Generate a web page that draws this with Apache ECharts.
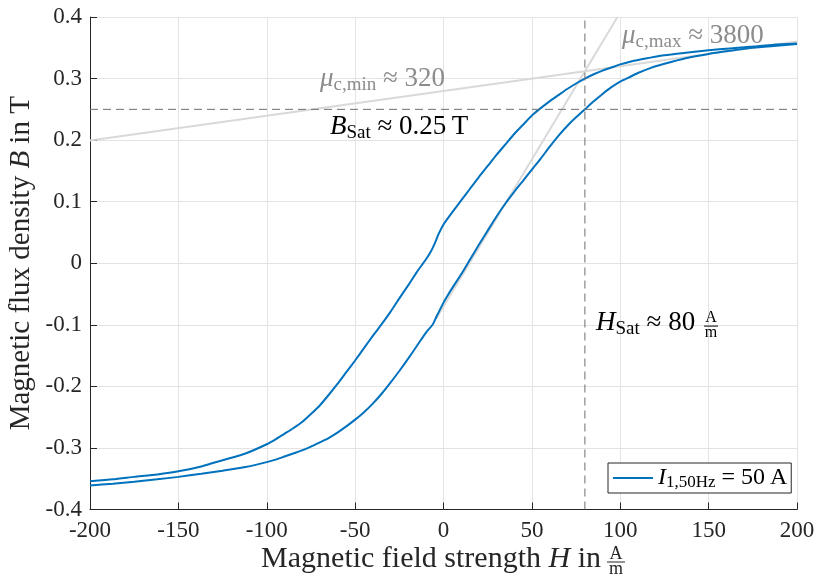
<!DOCTYPE html>
<html>
<head>
<meta charset="utf-8">
<script src="https://cdn.jsdelivr.net/npm/echarts@6/dist/echarts.min.js"></script>
<style>
  html, body { margin: 0; padding: 0; background: #fff; }
  #chart { width: 819px; height: 585px; }
</style>
</head>
<body>
<div id="chart"></div>
<script>
// Hysteresis loop B(H), descending branch (upper curve)
const fieldDown = [-200, -187, -175, -162, -150, -137, -125, -112, -100, -95, -90, -85, -80, -75, -70, -65, -60, -55, -50, -45, -40, -35, -30, -25, -20, -15, -10, -7, -5, -3, 0, 5, 10, 15, 20, 25, 30, 35, 40, 45, 50, 55, 60, 65, 70, 75, 80, 85, 90, 95, 100, 105, 110, 117, 125, 137, 150, 162, 175, 187, 200];
const fluxDown  = [-0.354, -0.351, -0.347, -0.343, -0.338, -0.330, -0.320, -0.309, -0.294, -0.286, -0.277, -0.268, -0.258, -0.245, -0.231, -0.214, -0.196, -0.177, -0.158, -0.138, -0.118, -0.099, -0.079, -0.057, -0.036, -0.014, 0.006, 0.020, 0.032, 0.046, 0.063, 0.083, 0.102, 0.121, 0.140, 0.158, 0.176, 0.193, 0.210, 0.225, 0.240, 0.252, 0.263, 0.273, 0.283, 0.292, 0.300, 0.307, 0.313, 0.318, 0.323, 0.327, 0.330, 0.334, 0.338, 0.342, 0.346, 0.349, 0.352, 0.355, 0.357];

// Ascending branch (lower curve)
const fieldUp = [-200, -187, -175, -162, -150, -137, -125, -112, -100, -95, -90, -85, -80, -75, -70, -65, -60, -55, -50, -45, -40, -35, -30, -25, -20, -15, -10, -6, -4, 0, 2, 5, 10, 15, 20, 25, 30, 35, 40, 45, 50, 55, 60, 65, 70, 75, 80, 85, 90, 95, 100, 105, 110, 117, 125, 137, 150, 162, 175, 187, 200];
const fluxUp  = [-0.361, -0.358, -0.355, -0.351, -0.347, -0.342, -0.337, -0.331, -0.323, -0.319, -0.314, -0.309, -0.304, -0.298, -0.291, -0.284, -0.275, -0.265, -0.254, -0.242, -0.228, -0.212, -0.194, -0.175, -0.155, -0.134, -0.113, -0.099, -0.087, -0.064, -0.054, -0.040, -0.018, 0.006, 0.030, 0.053, 0.076, 0.097, 0.116, 0.134, 0.152, 0.170, 0.189, 0.207, 0.223, 0.237, 0.250, 0.263, 0.275, 0.286, 0.295, 0.302, 0.309, 0.317, 0.324, 0.333, 0.340, 0.345, 0.350, 0.353, 0.356];

// Axis ranges and tick spacing
const fieldRange = [-200, 200];
const fieldStep = 50;
const fluxRange = [-0.4, 0.4];
const fluxStep = 0.1;

// Saturation point and permeability tangents
const H_SAT = 80;
const B_SAT = 0.25;
const B_KNEE = 0.312;        // tangents cross at H_SAT
const MU_MIN = 320;
const MU_MAX = 3800;
const B_STEEP_START = -0.09; // lower end of the steep tangent
const MU0 = 4 * Math.PI * 1e-7;

const SERIES_NAME = 'I_1,50Hz';
const FONT = "'Liberation Serif', 'Times New Roman', serif";
const BLUE = '#0072BD';

const zip = (xs, ys) => xs.map((x, i) => [x, ys[i]]);

// Tangent lines from the relative permeabilities
const slopeMin = MU_MIN * MU0;
const slopeMax = MU_MAX * MU0;
const shallowLine = fieldRange.map(h => [h, B_KNEE + slopeMin * (h - H_SAT)]);
const steepLine = [B_STEEP_START, fluxRange[1]].map(b => [H_SAT + (b - B_KNEE) / slopeMax, b]);

const chart = echarts.init(document.getElementById('chart'), null, { renderer: 'canvas' });

const italic = { fontFamily: FONT, fontStyle: 'italic' };

chart.setOption({
  animation: false,
  backgroundColor: '#fff',
  grid: { left: 90, right: 22, top: 17, bottom: 75.5, containLabel: false, outerBoundsMode: 'none' },
  xAxis: {
    type: 'value',
    min: fieldRange[0], max: fieldRange[1], interval: fieldStep,
    axisLine: { show: true, onZero: false, lineStyle: { color: '#262626', width: 1 } },
    axisTick: { show: true, inside: true, length: 7, lineStyle: { color: '#262626', width: 1 } },
    axisLabel: { color: '#262626', fontFamily: FONT, fontSize: 23, margin: 10, formatter: v => String(v) },
    splitLine: { show: true, lineStyle: { color: '#e3e3e3', width: 1 } }
  },
  yAxis: {
    type: 'value',
    min: fluxRange[0], max: fluxRange[1], interval: fluxStep,
    axisLine: { show: true, onZero: false, lineStyle: { color: '#262626', width: 1 } },
    axisTick: { show: true, inside: true, length: 7, lineStyle: { color: '#262626', width: 1 } },
    axisLabel: {
      color: '#262626', fontFamily: FONT, fontSize: 23, margin: 8,
      formatter: v => (Math.abs(v) < 1e-9 ? '0' : v.toFixed(1))
    },
    splitLine: { show: true, lineStyle: { color: '#e3e3e3', width: 1 } },
    name: 'Magnetic flux density {i|B} in T',
    nameLocation: 'middle',
    nameRotate: 90,
    nameGap: 52,
    nameMoveOverlap: false,
    nameTextStyle: {
      color: '#262626', fontFamily: FONT, fontSize: 29, lineHeight: 34,
      rich: { i: Object.assign({ fontSize: 29, lineHeight: 34, color: '#262626' }, italic) }
    }
  },
  legend: {
    data: [SERIES_NAME],
    icon: 'rect',
    left: 608, top: 463,
    padding: [2, 4, 2, 5],
    itemWidth: 40, itemHeight: 2, itemGap: 0,
    borderColor: '#262626', borderWidth: 1, borderRadius: 0,
    backgroundColor: '#fff',
    selectedMode: false,
    formatter: () => '{i|I}{s|1,50Hz}{n| = 50\u2009A}',
    textStyle: {
      fontFamily: FONT, fontSize: 24, color: '#000', lineHeight: 26,
      rich: {
        i: Object.assign({ fontSize: 24, lineHeight: 26, color: '#000' }, italic),
        s: { fontFamily: FONT, fontSize: 17, lineHeight: 14, verticalAlign: 'bottom', color: '#000' },
        n: { fontFamily: FONT, fontSize: 24, lineHeight: 26, color: '#000' }
      }
    }
  },
  series: [
    {
      type: 'line', name: 'muMin', data: shallowLine, symbol: 'none', silent: true, z: 1,
      lineStyle: { color: '#d9d9d9', width: 2 }
    },
    {
      type: 'line', name: 'muMax', data: steepLine, symbol: 'none', silent: true, z: 1,
      lineStyle: { color: '#d9d9d9', width: 2 }
    },
    {
      type: 'line', name: SERIES_NAME, data: zip(fieldDown, fluxDown), symbol: 'none',
      smooth: 0.2, z: 3,
      lineStyle: { color: BLUE, width: 2 }, itemStyle: { color: BLUE }
    },
    {
      type: 'line', name: SERIES_NAME, data: zip(fieldUp, fluxUp), symbol: 'none',
      smooth: 0.2, z: 3,
      lineStyle: { color: BLUE, width: 2 }, itemStyle: { color: BLUE }
    },
    {
      type: 'line', name: 'bSat', data: [[fieldRange[0], B_SAT], [fieldRange[1], B_SAT]],
      symbol: 'none', silent: true, z: 4,
      lineStyle: { color: '#6e6e6e', width: 1, type: [8, 5] }
    },
    {
      type: 'line', name: 'hSat', data: [[H_SAT, fluxRange[0]], [H_SAT, fluxRange[1]]],
      symbol: 'none', silent: true, z: 4,
      lineStyle: { color: '#6e6e6e', width: 1, type: [8, 5] }
    }
  ]
});

// Annotations anchored at data coordinates
const px = (h, b) => chart.convertToPixel({ gridIndex: 0 }, [h, b]);

function richText(x, y, text, color, size, subSize) {
  return {
    type: 'text', x, y, z: 100,
    style: {
      text,
      fill: color,
      fontFamily: FONT, fontSize: size,
      align: 'left', verticalAlign: 'middle',
      rich: {
        i: Object.assign({ fontSize: size, lineHeight: size + 4, fill: color, color }, italic),
        s: { fontFamily: FONT, fontSize: subSize, lineHeight: subSize - 3, verticalAlign: 'bottom', fill: color, color },
        n: { fontFamily: FONT, fontSize: size, lineHeight: size + 4, fill: color, color }
      }
    }
  };
}

function fraction(cx, yTop, yBar, yBottom, halfWidth, size, color) {
  return [
    { type: 'text', x: cx, y: yTop, z: 100,
      style: { text: 'A', fill: color, fontFamily: FONT, fontSize: size, align: 'center', verticalAlign: 'middle' } },
    { type: 'line', z: 100,
      shape: { x1: cx - halfWidth, y1: yBar, x2: cx + halfWidth, y2: yBar },
      style: { stroke: color, lineWidth: 1 } },
    { type: 'text', x: cx, y: yBottom, z: 100,
      style: { text: 'm', fill: color, fontFamily: FONT, fontSize: size, align: 'center', verticalAlign: 'middle' } }
  ];
}

const pMin = px(-69.9, 0.300);
const pMax = px(101, 0.369);
const pB = px(-64.2, 0.222);
const pH = px(86.3, -0.0964);

const graphics = [
  richText(pMin[0], pMin[1], '{i|\u03bc}{s|c,min}{n| \u2248 320}', '#8c8c8c', 27, 19),
  richText(pMax[0], pMax[1], '{i|\u03bc}{s|c,max}{n| \u2248 3800}', '#8c8c8c', 27, 19),
  richText(pB[0], pB[1], '{i|B}{s|Sat}{n| \u2248 0.25\u2009T}', '#000', 27, 19),
  richText(pH[0], pH[1], '{i|H}{s|Sat}{n| \u2248 80}', '#000', 27, 19)
].concat(
  fraction(pH[0] + 115, pH[1] - 5, pH[1] + 3.5, pH[1] + 10, 7, 16, '#000'),
  // x-axis title with unit fraction
  [{
    type: 'text', x: 601, y: 559, z: 100,
    style: {
      text: 'Magnetic field strength {i|H} in',
      fill: '#262626', fontFamily: FONT, fontSize: 30,
      align: 'right', verticalAlign: 'middle',
      rich: { i: Object.assign({ fontSize: 30, fill: '#262626', color: '#262626' }, italic) }
    }
  }],
  fraction(616, 554, 562, 569, 9, 18, '#262626')
);

chart.setOption({ graphic: { elements: graphics } });
</script>
</body>
</html>
